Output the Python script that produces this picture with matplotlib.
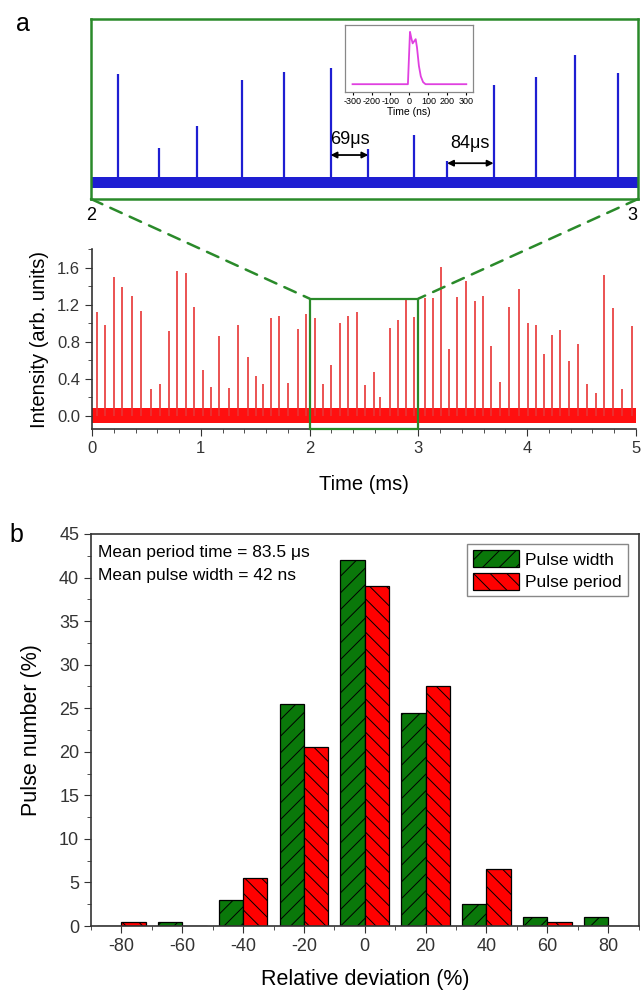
import numpy as np
import matplotlib
matplotlib.use("Agg")
import matplotlib.pyplot as plt
from matplotlib.patches import Rectangle, ConnectionPatch
from matplotlib.ticker import MultipleLocator, FixedLocator

plt.rcParams['font.family'] = ['Liberation Sans', 'DejaVu Sans']
plt.rcParams['hatch.linewidth'] = 0.7
plt.rcParams['axes.unicode_minus'] = False

# ---- panel a: pulse train (time in ms, intensity arb. units) ----
spike_t = [0.043, 0.120, 0.200, 0.280, 0.368, 0.450, 0.540, 0.626, 0.710, 0.782,
           0.865, 0.940, 1.024, 1.095, 1.170, 1.260, 1.343, 1.430, 1.510, 1.573,
           1.647, 1.723, 1.806, 1.889, 1.970, 2.049, 2.124, 2.194, 2.276, 2.352,
           2.438, 2.507, 2.590, 2.651, 2.736, 2.814, 2.885, 2.964, 3.057, 3.134,
           3.210, 3.284, 3.358, 3.434, 3.517, 3.597, 3.668, 3.750, 3.836, 3.928,
           4.011, 4.085, 4.158, 4.229, 4.302, 4.385, 4.468, 4.550, 4.630, 4.704,
           4.790, 4.873, 4.962]
spike_h = [1.12, 0.98, 1.50, 1.39, 1.29, 1.13, 0.29, 0.34, 0.92, 1.56,
           1.54, 1.17, 0.50, 0.31, 0.86, 0.30, 0.98, 0.64, 0.43, 0.35,
           1.06, 1.08, 0.36, 0.94, 1.10, 1.06, 0.34, 0.55, 1.00, 1.08,
           1.12, 0.33, 0.47, 0.21, 0.95, 1.03, 1.25, 1.07, 1.27, 1.27,
           1.61, 0.72, 1.28, 1.45, 1.24, 1.29, 0.75, 0.37, 1.18, 1.37,
           1.00, 0.98, 0.67, 0.87, 0.93, 0.59, 0.78, 0.35, 0.25, 1.52,
           1.16, 0.29, 0.97]
noise_low, noise_high = -0.07, 0.09
zoom_noise = 0.055
zoom_t = [2.0, 3.0]
zoom_top = 1.265

# single-pulse shape for the inset (ns, normalised)
pulse_t = [-300, -8, -2, 3, 10, 17, 25, 33, 40, 50, 60, 72, 85, 300]
pulse_v = [0.0, 0.0, 0.55, 1.0, 0.88, 0.78, 0.82, 0.86, 0.70, 0.35, 0.15, 0.04, 0.0, 0.0]

# period markers in the zoom: start, end, arrow y, label, label y
gaps = [(2.438, 2.507, 0.27, "69μs", 0.42), (2.651, 2.736, 0.19, "84μs", 0.38)]

# ---- panel b: histogram ----
dev_bins = [-80, -60, -40, -20, 0, 20, 40, 60, 80]
pulse_width = [0, 0.5, 3, 25.5, 42, 24.5, 2.5, 1, 1]
pulse_period = [0.5, 0, 5.5, 20.5, 39, 27.5, 6.5, 0.5, 0]

GREEN = '#2a8a2a'
RED = '#ff1010'
BLUE = '#1e1ed2'

fig = plt.figure(figsize=(6.43, 9.94), dpi=100)

# main trace
ax_m = fig.add_axes([0.1431, 0.5684, 0.846, 0.1811])
ax_m.fill_between([0, 5], noise_low, noise_high, color=RED, lw=0)
ax_m.vlines(spike_t, 0, spike_h, color='#e83535', lw=1.2)
ax_m.set_xlim(0, 5)
ax_m.set_ylim(-0.14, 1.8)
ax_m.xaxis.set_major_locator(MultipleLocator(1))
ax_m.xaxis.set_minor_locator(MultipleLocator(0.2))
ax_m.yaxis.set_minor_locator(MultipleLocator(0.2))
ax_m.set_yticks([0.0, 0.4, 0.8, 1.2, 1.6])
ax_m.set_yticklabels(['0.0', '0.4', '0.8', '1.2', '1.6'])
for s in ['top', 'right']:
    ax_m.spines[s].set_visible(False)
for s in ['left', 'bottom']:
    ax_m.spines[s].set_color('#333333')
    ax_m.spines[s].set_linewidth(1.2)
ax_m.tick_params(which='both', direction='out', colors='#333333', labelsize=12)
ax_m.tick_params(which='major', length=5)
ax_m.tick_params(which='minor', length=3)
ax_m.set_xlabel('Time (ms)', fontsize=14.5, labelpad=14)
ax_m.set_ylabel('Intensity (arb. units)', fontsize=14.5, labelpad=6)
ax_m.add_patch(Rectangle((zoom_t[0], -0.14), zoom_t[1] - zoom_t[0], zoom_top + 0.14,
                         fill=False, ec=GREEN, lw=1.6, clip_on=False, zorder=5))

# zoomed trace
ax_z = fig.add_axes([0.1415, 0.7998, 0.8507, 0.1811])
ax_z.fill_between(zoom_t, -zoom_noise, zoom_noise, color=BLUE, lw=0)
zt = [t for t in spike_t if zoom_t[0] <= t <= zoom_t[1]]
zh = [h for t, h in zip(spike_t, spike_h) if zoom_t[0] <= t <= zoom_t[1]]
ax_z.vlines(zt, 0, zh, color=BLUE, lw=1.6)
ax_z.set_xlim(*zoom_t)
ax_z.set_ylim(-0.16, 1.6)
ax_z.set_xticks([])
ax_z.set_yticks([])
for s in ax_z.spines.values():
    s.set_color(GREEN)
    s.set_linewidth(1.8)
for t0, t1, y, lab, ty in gaps:
    ax_z.annotate('', xy=(t0, y), xytext=(t1, y),
                  arrowprops=dict(arrowstyle='<|-|>', color='black', lw=1.3,
                                  mutation_scale=9, shrinkA=0, shrinkB=0))
    ax_z.text((t0 + t1) / 2, ty, lab, ha='center', va='center', fontsize=13)
fig.text(0.1415, 1 - 215 / 994, '2', ha='center', va='center', fontsize=13)
fig.text(0.984, 1 - 215 / 994, '3', ha='center', va='center', fontsize=13)

for xa, xb in [(0, zoom_t[0]), (1, zoom_t[1])]:
    con = ConnectionPatch(xyA=(xa, 0), coordsA='axes fraction', axesA=ax_z,
                          xyB=(xb, zoom_top), coordsB='data', axesB=ax_m,
                          color=GREEN, lw=1.8, linestyle=(0, (5, 3.5)))
    fig.add_artist(con)

# inset: single pulse
ax_i = fig.add_axes([0.5365, 0.9074, 0.199, 0.0674])
ax_i.plot(pulse_t, pulse_v, color='#e040e0', lw=1.3)
ax_i.set_xlim(-340, 335)
ax_i.set_ylim(-0.15, 1.13)
ax_i.set_xticks([-300, -200, -100, 0, 100, 200, 300])
ax_i.set_yticks([])
ax_i.tick_params(axis='x', labelsize=6.5, length=2, pad=1.5)
for s in ax_i.spines.values():
    s.set_color('#888888')
    s.set_linewidth(0.9)
ax_i.set_xlabel('Time (ns)', fontsize=7.5, labelpad=1)

fig.text(0.035, 1 - 24 / 994, 'a', fontsize=18, ha='center', va='center')

# histogram
ax_b = fig.add_axes([0.1415, 0.0684, 0.8516, 0.3944])
centers = np.array(dev_bins, dtype=float)
ax_b.bar(centers - 4, pulse_width, width=8, color='#0a780a', edgecolor='black',
         lw=0.9, hatch='//', label='Pulse width')
ax_b.bar(centers + 4, pulse_period, width=8, color='#ff0000', edgecolor='black',
         lw=0.9, hatch='\\\\', label='Pulse period')
ax_b.set_xlim(-90, 90)
ax_b.set_ylim(0, 45)
ax_b.xaxis.set_major_locator(FixedLocator(dev_bins))
ax_b.xaxis.set_minor_locator(FixedLocator(list(np.arange(-90, 91, 20))))
ax_b.yaxis.set_major_locator(MultipleLocator(5))
ax_b.yaxis.set_minor_locator(MultipleLocator(2.5))
ax_b.tick_params(which='both', direction='out', top=False, right=False,
                 colors='#333333', labelsize=13)
ax_b.tick_params(which='major', length=5)
ax_b.tick_params(which='minor', length=3)
for s in ax_b.spines.values():
    s.set_color('#333333')
    s.set_linewidth(1.2)
ax_b.set_xlabel('Relative deviation (%)', fontsize=15.5, labelpad=10)
ax_b.set_ylabel('Pulse number (%)', fontsize=15.5, labelpad=12)
ax_b.text(0.013, 0.954, 'Mean period time = 83.5 μs', transform=ax_b.transAxes,
          fontsize=12.5, va='center')
ax_b.text(0.013, 0.895, 'Mean pulse width = 42 ns', transform=ax_b.transAxes,
          fontsize=12.5, va='center')
leg = ax_b.legend(loc='upper right', fontsize=12.5, fancybox=False, framealpha=1,
                  edgecolor='#888888', handlelength=2.6, handleheight=1.1,
                  labelspacing=0.3, handletextpad=0.4, borderpad=0.35,
                  borderaxespad=0.6)
leg.get_frame().set_linewidth(1.0)
fig.text(0.025, 1 - 535 / 994, 'b', fontsize=18, ha='center', va='center')

fig.savefig('out.png', dpi=100)
